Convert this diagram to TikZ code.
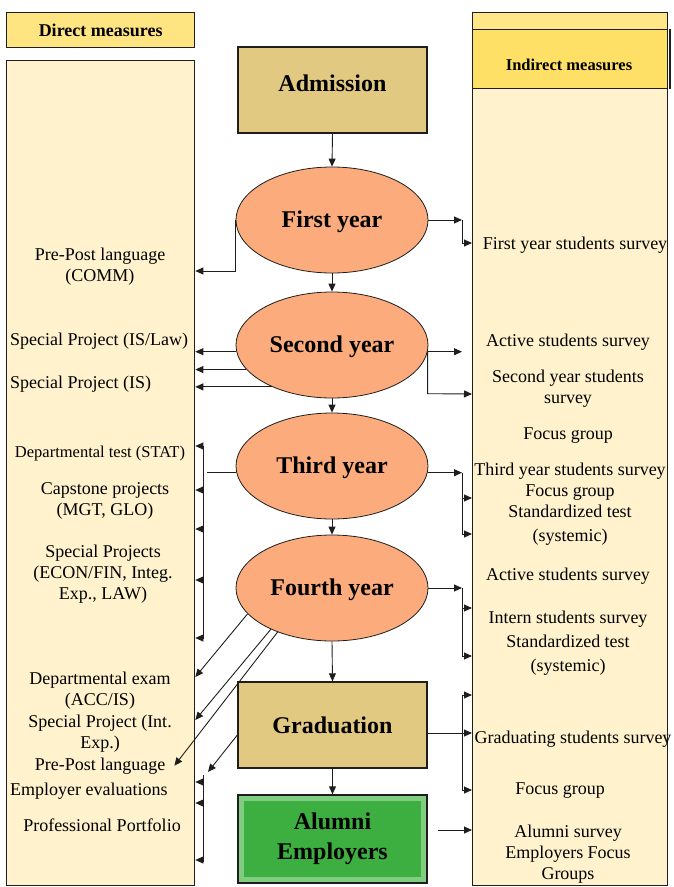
\documentclass[tikz,border=0pt]{standalone}
\usepackage{fontspec}
\setmainfont{Liberation Serif}
\usetikzlibrary{shapes.geometric, arrows.meta, calc}
\definecolor{amcream}{RGB}{255,242,204}
\definecolor{amheadd}{RGB}{255,229,130}
\definecolor{amheadi}{RGB}{255,224,102}
\definecolor{amstrip}{RGB}{255,231,135}
\definecolor{amtan}{RGB}{226,201,130}
\definecolor{amorange}{RGB}{252,172,124}
\definecolor{amgreen}{RGB}{61,174,64}
\definecolor{amlight}{RGB}{128,204,128}
\definecolor{amline}{RGB}{30,30,30}
\tikzset{
  panel/.style={rectangle, draw=amline, line width=1.3pt, fill=amcream,
                anchor=north west, inner sep=0pt},
  header/.style={rectangle, draw=amline, line width=1.3pt,
                 anchor=north west, inner sep=0pt},
  gate/.style={rectangle, draw=amline, line width=1.3pt, fill=amtan,
               minimum width=189pt, minimum height=86pt,
               font=\fontsize{24}{30}\selectfont\bfseries},
  stage/.style={ellipse, draw=amline, line width=0.8pt, fill=amorange,
                minimum width=192pt, minimum height=106pt, inner sep=0pt,
                text depth=2pt, font=\fontsize{24}{30}\selectfont\bfseries},
  alumbox/.style={rectangle, draw=amline, line width=1.3pt, fill=amlight,
                  minimum width=189pt, minimum height=88pt, align=center,
                  font=\fontsize{24}{30}\selectfont\bfseries,
                  path picture={\fill[amgreen]
                    ([shift={(6pt,-6pt)}]path picture bounding box.north west) rectangle
                    ([shift={(-6pt,6pt)}]path picture bounding box.south east);}},
  item/.style={font=\fontsize{18}{21}\selectfont, align=center,
               inner sep=0pt, anchor=base},
  arr/.style={-{Triangle[length=8pt, width=7pt]}, line width=0.9pt, amline},
  bus/.style={line width=0.9pt, amline},
}
\begin{document}
\begin{tikzpicture}[x=1pt, y=-1pt]
  \useasboundingbox (0,0) rectangle (674,887);
  % panels
  \node[header, fill=amheadd, minimum width=188pt, minimum height=35pt,
        font=\fontsize{18}{21}\selectfont\bfseries] (dhead) at (6,12) {Direct measures};
  \node[panel, minimum width=188pt, minimum height=825pt] (dbox) at (6,60) {};
  \node[panel, minimum width=195pt, minimum height=873pt] (ibox) at (472,12) {};
  \node[header, fill=amstrip, minimum width=195pt, minimum height=17pt] (istrip) at (472,12) {};
  \node[header, fill=amheadi, minimum width=195pt, minimum height=59pt] (ihead) at (472,29) {};
  \draw[line width=2.2pt, amline] ([xshift=1.5pt]ihead.north east) -- ([xshift=1.5pt]ihead.south east);
  \node[font=\fontsize{16.5}{20}\selectfont\bfseries, anchor=base, inner sep=0pt] (ilabel) at (569,70) {Indirect measures};

  % stages
  \node[gate, text depth=14pt] (admission) at (332.5,90) {Admission};
  \node[stage] (first) at (332,220) {First year};
  \node[stage] (second) at (332,345) {Second year};
  \node[stage] (third) at (332,466) {Third year};
  \node[stage] (fourth) at (332,588) {Fourth year};
  \node[gate] (graduation) at (332.5,725) {Graduation};
  \node[alumbox] (alumni) at (332.5,839) {Alumni\\Employers};
  \foreach \a/\b in {admission/first, first/second, second/third, third/fourth,
                     fourth/graduation, graduation/alumni}{
    \draw[arr] (\a.south) -- (\b.north);
  }

  % direct measures (base = last line)
  \node[item] (comm) at (100,281) {Pre-Post language\\(COMM)};
  \node[item, anchor=base west] (islaw) at (10,345) {Special Project (IS/Law)};
  \node[item, anchor=base west] (is) at (10,388) {Special Project (IS)};
  \node[item, font=\fontsize{16.5}{20}\selectfont] (stat) at (100,457) {Departmental test (STAT)};
  \node[item] (capstone) at (105,515) {Capstone projects\\(MGT, GLO)};
  \node[item] (econ) at (103,599) {Special Projects\\(ECON/FIN, Integ.\\Exp., LAW)};
  \node[item] (acc) at (100,705) {Departmental exam\\(ACC/IS)};
  \node[item] (intexp) at (100,748) {Special Project (Int.\\Exp.)};
  \node[item] (prepost) at (100,770) {Pre-Post language};
  \node[item, anchor=base west] (employer) at (10,795) {Employer evaluations};
  \node[item] (portfolio) at (102,831) {Professional Portfolio};

  % indirect measures
  \node[item] (fysurvey) at (575,249) {First year students survey};
  \node[item] (active2) at (568,346) {Active students survey};
  \node[item] (sysurvey) at (568,403) {Second year students\\survey};
  \node[item] (focus2) at (568,439) {Focus group};
  \node[item] (tysurvey) at (570,541) {Third year students survey\\Focus group\\Standardized test\\[3pt](systemic)};
  \node[item] (active4) at (568,580) {Active students survey};
  \node[item] (intern) at (568,671) {Intern students survey\\[3pt]Standardized test\\[3pt](systemic)};
  \node[item] (gradsurvey) at (573,743) {Graduating students survey};
  \node[item] (focusg) at (560,794) {Focus group};
  \node[item] (alumsurvey) at (568,879) {Alumni survey\\Employers Focus\\Groups};

  % connectors to the right
  \coordinate (rbus) at (462,0);
  \draw[arr] (first.east) -- (first.east -| rbus);
  \draw[arr] (first.east -| rbus) |- (ibox.west |- 0,243);
  \draw[arr] (second.356) -- (second.356 -| rbus);
  \draw[arr] (second.356) -- ++(0,42) -- (ibox.west |- 0,394);
  \draw[arr] (third.356) -- (third.356 -| rbus);
  \draw[bus] (third.356 -| rbus) -- (462,534);
  \foreach \y in {498,534}{
    \draw[arr] (462,\y) -- (ibox.west |- 0,\y);
  }
  \draw[arr] (fourth.east) -- (fourth.east -| rbus);
  \draw[bus] (fourth.east -| rbus) -- (462,656);
  \foreach \y in {608,656}{
    \draw[arr] (462,\y) -- (ibox.west |- 0,\y);
  }
  \draw[arr] ([yshift=-8pt]graduation.east) -- (ibox.west |- 0,733);
  \draw[bus] (462,695) -- (462,790);
  \foreach \y in {695,790}{
    \draw[arr] (462,\y) -- (ibox.west |- 0,\y);
  }
  \draw[arr] ([xshift=10pt,yshift=9pt]alumni.east) -- (ibox.west |- 0,830);

  % connectors to the left
  \draw[arr] (first.west) -- ++(0,51) -- (dbox.east |- 0,271);
  \foreach \a in {184,196,215}{
    \draw[arr] (second.\a) -- (second.\a -| dbox.east);
  }
  \draw[bus] (third.184) -- ++(-29,0);
  \draw[bus] (203,446) -- (203,638);
  \foreach \y in {446,490,529,580,638}{
    \draw[arr] (203,\y) -- (dbox.east |- 0,\y);
  }
  \draw[arr] (fourth.197) -- (dbox.east |- 0,677);
  \draw[arr] (fourth.214) -- (dbox.east |- 0,720);
  \draw[arr] (fourth.219) -- ([xshift=9pt]prepost.east);
  \coordinate (gradend) at (208,772);
  \draw[arr] ([yshift=-10pt]graduation.west) -- (gradend);
  \draw[bus] (203,775) -- (203,862);
  \foreach \y in {782,803,860}{
    \draw[arr] (203,\y) -- (dbox.east |- 0,\y);
  }
\end{tikzpicture}
\end{document}
